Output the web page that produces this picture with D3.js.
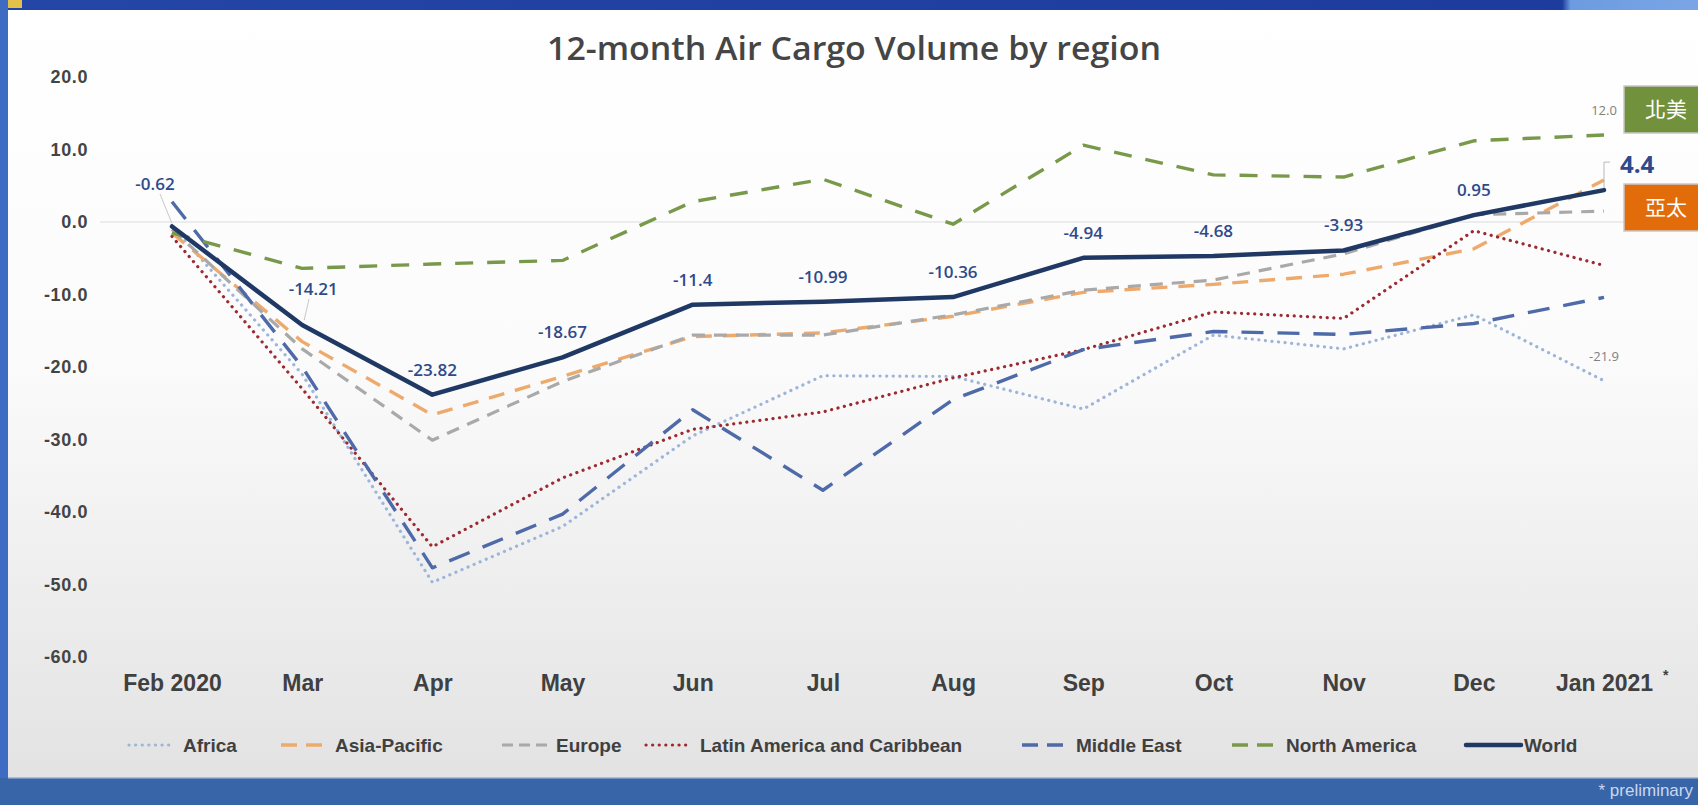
<!DOCTYPE html>
<html lang="en">
<head>
    <meta charset="UTF-8">
    <title>12-month Air Cargo Volume by region</title>
    <script src="https://d3js.org/d3.v7.min.js"></script>
    <style>
        body { margin: 0; overflow: hidden; background: #ffffff; }
        svg { display: block; }
    </style>
</head>
<body>
<svg width="1698" height="805" id="canvas"></svg>

<script>

    // months on the x axis
    const months = ["Feb 2020", "Mar", "Apr", "May", "Jun", "Jul", "Aug", "Sep", "Oct", "Nov", "Dec", "Jan 2021"];
    const yTicks = [20, 10, 0, -10, -20, -30, -40, -50, -60];

    // series values (% change)
    const africa       = [-0.5, -21, -49.7, -42, -29.5, -21.2, -21.3, -25.8, -15.6, -17.5, -12.8, -21.9];
    const asiaPacific  = [-1.5, -16.5, -26.6, -21.3, -15.8, -15.3, -13.0, -9.7, -8.6, -7.2, -3.7, 5.8];
    const europe       = [-1.0, -17.5, -30.1, -22.0, -15.6, -15.6, -12.8, -9.4, -8.0, -4.4, 1.0, 1.5];
    const latinAmerica = [-2.0, -23, -44.8, -35.3, -28.6, -26.2, -21.5, -17.6, -12.4, -13.3, -1.2, -6.0];
    const middleEast   = [2.8, -20, -47.7, -40.3, -25.9, -37.0, -24.5, -17.6, -15.1, -15.5, -14.0, -10.4];
    const northAmerica = [-1.5, -6.4, -5.8, -5.3, 2.8, 5.9, -0.3, 10.6, 6.5, 6.2, 11.2, 12.0];
    const world        = [-0.62, -14.21, -23.82, -18.67, -11.4, -10.99, -10.36, -4.94, -4.68, -3.93, 0.95, 4.4];

    const seriesNames = ["Africa", "Asia-Pacific", "Europe", "Latin America and Caribbean", "Middle East", "North America", "World"];
    const seriesValues = [africa, asiaPacific, europe, latinAmerica, middleEast, northAmerica, world];

    // styling per series
    const styles = {
        "Africa":                      {color: "#9db5d8", width: 3.2, dash: "0.1 6.5", cap: "round"},
        "Asia-Pacific":                {color: "#eeaa6c", width: 3.4, dash: "16 11",   cap: "butt"},
        "Europe":                      {color: "#a9a9a9", width: 3.2, dash: "13 9",    cap: "butt"},
        "Latin America and Caribbean": {color: "#9c2a30", width: 3.2, dash: "0.1 6.5", cap: "round"},
        "Middle East":                 {color: "#4e6aa8", width: 3.4, dash: "22 14",   cap: "butt"},
        "North America":               {color: "#78984a", width: 3.4, dash: "18 14",   cap: "butt"},
        "World":                       {color: "#1f3864", width: 4.5, dash: null,      cap: "round"}
    };

    let svg = d3.select("svg");
    const W = 1698, H = 805;

    // background gradients
    let defs = svg.append("defs");
    let bg = defs.append("linearGradient").attr("id", "bg").attr("x1", 0).attr("y1", 0).attr("x2", 0).attr("y2", 1);
    bg.append("stop").attr("offset", "0").attr("stop-color", "#ffffff");
    bg.append("stop").attr("offset", "0.45").attr("stop-color", "#fbfbfb");
    bg.append("stop").attr("offset", "1").attr("stop-color", "#e1e1e1");

    let topBand = defs.append("linearGradient").attr("id", "topband").attr("x1", 0).attr("y1", 0).attr("x2", 1).attr("y2", 0);
    topBand.append("stop").attr("offset", "0").attr("stop-color", "#2446a6");
    topBand.append("stop").attr("offset", "0.92").attr("stop-color", "#1d3c9e");
    topBand.append("stop").attr("offset", "0.925").attr("stop-color", "#6c9be0");
    topBand.append("stop").attr("offset", "1").attr("stop-color", "#7aa6e6");

    svg.append("rect").attr("x", 0).attr("y", 0).attr("width", W).attr("height", H).attr("fill", "url(#bg)");

    // frame
    svg.append("rect").attr("x", 0).attr("y", 0).attr("width", W).attr("height", 10).attr("fill", "url(#topband)");
    svg.append("rect").attr("x", 0).attr("y", 0).attr("width", 22).attr("height", 8).attr("fill", "#e2c04a");
    svg.append("rect").attr("x", 0).attr("y", 0).attr("width", 8).attr("height", H).attr("fill", "#3d6cc2");
    svg.append("rect").attr("x", 0).attr("y", 778).attr("width", W).attr("height", H - 778).attr("fill", "#3864a8");
    svg.append("rect").attr("x", 8).attr("y", 777).attr("width", W).attr("height", 1.5).attr("fill", "#a8bfe2");

    svg.append("text")
        .attr("x", 1693).attr("y", 796)
        .attr("text-anchor", "end")
        .attr("font-family", "Liberation Sans Narrow, Liberation Sans, sans-serif")
        .attr("font-size", 17)
        .attr("fill", "#c9d8f0")
        .text("* preliminary");

    // scales
    const x = d3.scalePoint().domain(months).range([172, 1604]);
    const y = d3.scaleLinear().domain([-60, 20]).range([657, 77]);

    // title
    svg.append("text")
        .attr("x", 854).attr("y", 60)
        .attr("text-anchor", "middle")
        .attr("font-family", "Open Sans, sans-serif")
        .attr("font-size", 32)
        .attr("font-weight", 600)
        .attr("fill", "#454545")
        .attr("textLength", 614)
        .attr("lengthAdjust", "spacingAndGlyphs")
        .text("12-month Air Cargo Volume by region");

    // zero line
    svg.append("line")
        .attr("x1", 100).attr("x2", 1625)
        .attr("y1", y(0)).attr("y2", y(0))
        .attr("stroke", "#dcdcdc").attr("stroke-width", 1.2);

    // y axis
    let yAxis = svg.append("g")
        .attr("transform", "translate(88,0)")
        .call(d3.axisLeft(y).tickValues(yTicks).tickFormat(d => d.toFixed(1)).tickSize(0).tickPadding(0));
    yAxis.select(".domain").remove();
    yAxis.selectAll("text")
        .attr("font-family", "Liberation Sans, Arial, sans-serif")
        .attr("font-size", 18)
        .attr("font-weight", "bold")
        .attr("letter-spacing", 0.6)
        .attr("fill", "#444444");

    // x axis
    let xAxis = svg.append("g")
        .attr("transform", "translate(0,675)")
        .call(d3.axisBottom(x).tickSize(0).tickPadding(0));
    xAxis.select(".domain").remove();
    xAxis.selectAll("text")
        .attr("font-family", "Liberation Sans, Arial, sans-serif")
        .attr("font-size", 23)
        .attr("font-weight", "bold")
        .attr("fill", "#404040");

    svg.append("text")
        .attr("x", 1663).attr("y", 680)
        .attr("font-family", "Liberation Sans, Arial, sans-serif")
        .attr("font-size", 14).attr("font-weight", "bold")
        .attr("fill", "#404040")
        .text("*");

    // lines
    const line = d3.line()
        .x((d, i) => x(months[i]))
        .y(d => y(d));

    seriesNames.forEach((name, k) => {
        const s = styles[name];
        svg.append("path")
            .datum(seriesValues[k])
            .attr("d", line)
            .attr("fill", "none")
            .attr("stroke", s.color)
            .attr("stroke-width", s.width)
            .attr("stroke-linecap", s.cap)
            .attr("stroke-linejoin", "round")
            .attr("stroke-dasharray", s.dash);
    });

    // world data labels
    const labelFont = "Open Sans, sans-serif";
    const labelShift = {0: [-17, -36], 1: [11, -30]};

    // leader lines for the first two labels and the last one
    svg.append("line")
        .attr("x1", 160).attr("y1", 194).attr("x2", x(months[0])).attr("y2", y(world[0]) - 3)
        .attr("stroke", "#c8c8c8").attr("stroke-width", 1);
    svg.append("line")
        .attr("x1", 309).attr("y1", 299).attr("x2", x(months[1]) + 2).attr("y2", y(world[1]) - 5)
        .attr("stroke", "#c8c8c8").attr("stroke-width", 1);

    svg.selectAll(".wlabel")
        .data(world.slice(0, 11))
        .enter()
        .append("text")
        .attr("class", "wlabel")
        .attr("x", (d, i) => x(months[i]) + (labelShift[i] ? labelShift[i][0] : 0))
        .attr("y", (d, i) => y(d) + (labelShift[i] ? labelShift[i][1] : -19))
        .attr("text-anchor", "middle")
        .attr("font-family", labelFont)
        .attr("font-size", 17)
        .attr("font-weight", 600)
        .attr("fill", "#2f4a8a")
        .text(d => d);

    const last = months.length - 1;
    const xl = x(months[last]);
    svg.append("polyline")
        .attr("points", [[xl, y(world[last]) - 2], [xl, y(world[last]) - 28], [xl + 6, y(world[last]) - 28]].join(" "))
        .attr("fill", "none").attr("stroke", "#b8b8b8").attr("stroke-width", 1);
    svg.append("text")
        .attr("x", xl + 16).attr("y", y(world[last]) - 17)
        .attr("font-family", labelFont)
        .attr("font-size", 24).attr("font-weight", 700)
        .attr("fill", "#2d4a8c")
        .text(world[last]);

    svg.append("text")
        .attr("x", xl).attr("y", y(northAmerica[last]) - 20)
        .attr("text-anchor", "middle")
        .attr("font-family", labelFont).attr("font-size", 13)
        .attr("fill", "#808080")
        .text(northAmerica[last].toFixed(1));
    svg.append("text")
        .attr("x", xl).attr("y", y(africa[last]) - 20)
        .attr("text-anchor", "middle")
        .attr("font-family", labelFont).attr("font-size", 13)
        .attr("fill", "#808080")
        .text(africa[last]);

    // callout boxes
    const boxes = [
        {text: "北美", fill: "#71913c", y: 86},
        {text: "亞太", fill: "#e36c0a", y: 184}
    ];
    boxes.forEach(b => {
        svg.append("rect")
            .attr("x", 1624).attr("y", b.y).attr("width", 80).attr("height", 47)
            .attr("fill", b.fill).attr("stroke", "#c8c8c8").attr("stroke-width", 1.5);
        svg.append("text")
            .attr("x", 1645).attr("y", b.y + 31)
            .attr("font-family", "Noto Sans CJK TC, sans-serif")
            .attr("font-size", 21)
            .attr("fill", "#ffffff")
            .text(b.text);
    });

    // legend
    const legendX = [127, 279, 500, 644, 1020, 1230, 1464];
    const legendY = 745;
    const legendDash = {
        "Africa": "0.1 6.5",
        "Asia-Pacific": "16 9",
        "Europe": "11 6",
        "Latin America and Caribbean": "0.1 6.5",
        "Middle East": "16 9",
        "North America": "16 9",
        "World": null
    };
    seriesNames.forEach((name, k) => {
        const s = styles[name];
        const lx = legendX[k];
        const isWorld = name === "World";
        svg.append("line")
            .attr("x1", lx + 2).attr("x2", lx + (isWorld ? 57 : 48))
            .attr("y1", legendY).attr("y2", legendY)
            .attr("stroke", s.color)
            .attr("stroke-width", s.width)
            .attr("stroke-linecap", s.cap)
            .attr("stroke-dasharray", legendDash[name]);
        svg.append("text")
            .attr("x", lx + (isWorld ? 60 : 56)).attr("y", legendY + 7)
            .attr("font-family", "Liberation Sans, Arial, sans-serif")
            .attr("font-size", 19)
            .attr("font-weight", "bold")
            .attr("fill", "#404040")
            .text(name);
    });

</script>
</body>
</html>
